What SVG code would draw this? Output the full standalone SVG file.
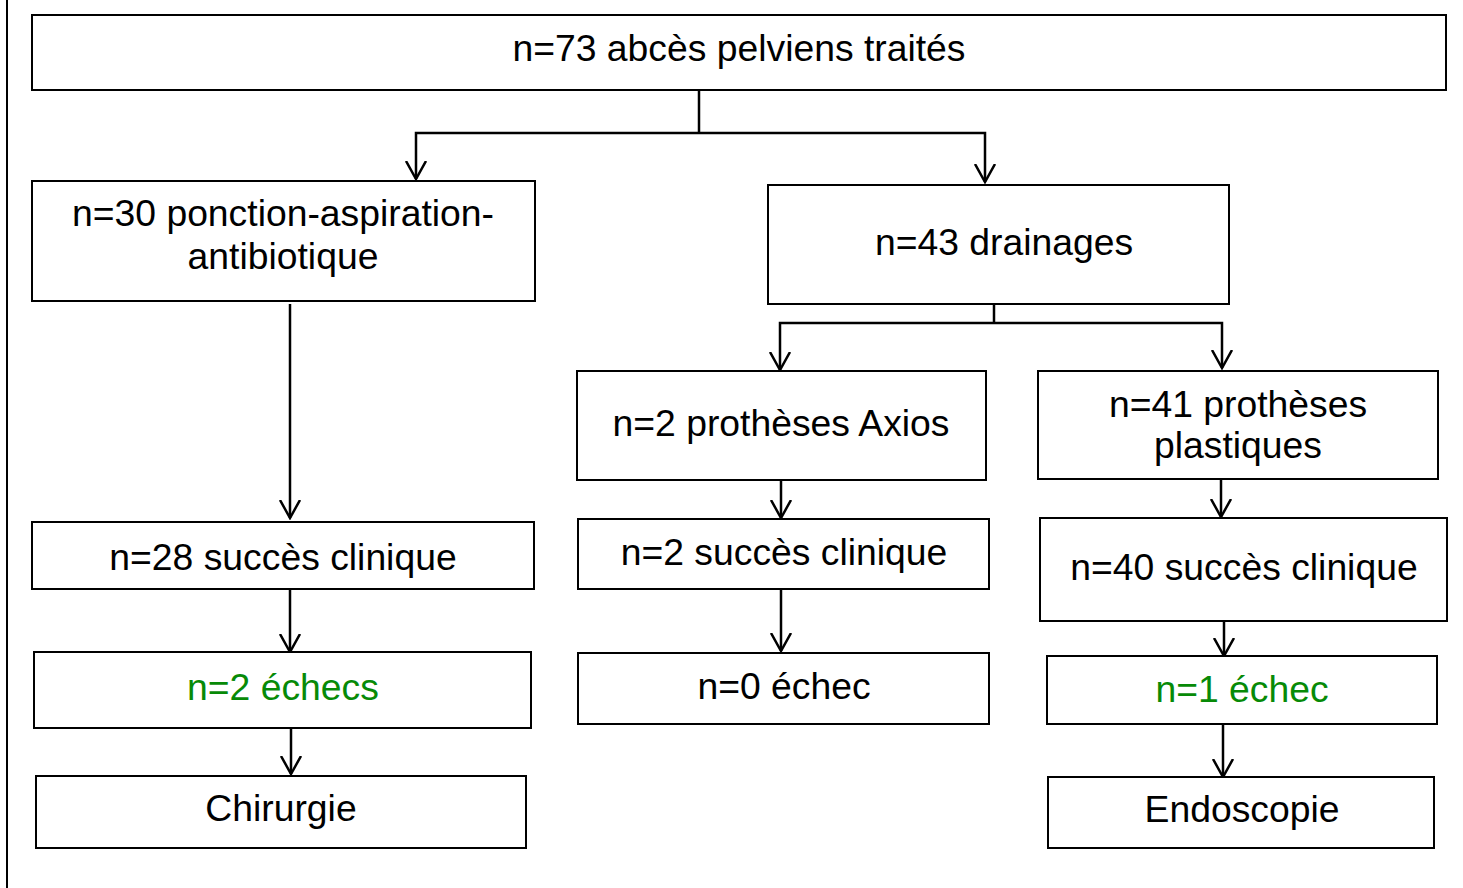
<svg xmlns="http://www.w3.org/2000/svg" width="1463" height="888" viewBox="0 0 1463 888">
<style>
.box{fill:#fff;stroke:#000;stroke-width:2}
.t{font-family:"Liberation Sans",Arial,sans-serif;font-size:37.3px;fill:#000;text-anchor:middle}
.g{fill:#078a07}
.c{fill:none;stroke:#000;stroke-width:2.5}
</style>
<defs>
<marker id="ah" viewBox="0 0 20 22" refX="18" refY="11" markerWidth="20" markerHeight="22" markerUnits="userSpaceOnUse" orient="auto-start-reverse">
<path d="M0,1 L18,11 L0,21" fill="none" stroke="#000" stroke-width="2.5"/>
</marker>
</defs>
<rect width="1463" height="888" fill="#fff"/>
<line x1="7" y1="0" x2="7" y2="888" stroke="#000" stroke-width="2"/>
<g id="connectors">
<polyline class="c" points="699,90 699,133"/>
<polyline class="c" points="416,179 416,133 985,133 985,182" marker-start="url(#ah)" marker-end="url(#ah)"/>
<polyline class="c" points="994,304 994,323"/>
<polyline class="c" points="780,370 780,323 1222,323 1222,368" marker-start="url(#ah)" marker-end="url(#ah)"/>
<line class="c" x1="290" y1="304" x2="290" y2="518" marker-end="url(#ah)"/>
<line class="c" x1="290" y1="589" x2="290" y2="652" marker-end="url(#ah)"/>
<line class="c" x1="291" y1="728" x2="291" y2="774" marker-end="url(#ah)"/>
<line class="c" x1="781" y1="480" x2="781" y2="518" marker-end="url(#ah)"/>
<line class="c" x1="781" y1="589" x2="781" y2="651" marker-end="url(#ah)"/>
<line class="c" x1="1221" y1="479" x2="1221" y2="517" marker-end="url(#ah)"/>
<line class="c" x1="1224" y1="621" x2="1224" y2="656" marker-end="url(#ah)"/>
<line class="c" x1="1223" y1="724" x2="1223" y2="777" marker-end="url(#ah)"/>
</g>
<g id="n73"><rect class="box" x="32" y="15" width="1414" height="75"/><text class="t" x="739" y="61">n=73 abcès pelviens traités</text></g>
<g id="n30"><rect class="box" x="32" y="181" width="503" height="120"/><text class="t" x="283" y="226">n=30 ponction-aspiration-</text><text class="t" x="283" y="269">antibiotique</text></g>
<g id="n43"><rect class="box" x="768" y="185" width="461" height="119"/><text class="t" x="1004" y="255">n=43 drainages</text></g>
<g id="axios"><rect class="box" x="577" y="371" width="409" height="109"/><text class="t" x="781" y="436">n=2 prothèses Axios</text></g>
<g id="plast"><rect class="box" x="1038" y="371" width="400" height="108"/><text class="t" x="1238" y="417">n=41 prothèses</text><text class="t" x="1238" y="458">plastiques</text></g>
<g id="s28"><rect class="box" x="32" y="522" width="502" height="67"/><text class="t" x="283" y="570">n=28 succès clinique</text></g>
<g id="e2"><rect class="box" x="34" y="652" width="497" height="76"/><text class="t g" x="283" y="700">n=2 échecs</text></g>
<g id="chir"><rect class="box" x="36" y="776" width="490" height="72"/><text class="t" x="281" y="821">Chirurgie</text></g>
<g id="s2"><rect class="box" x="578" y="519" width="411" height="70"/><text class="t" x="784" y="565">n=2 succès clinique</text></g>
<g id="e0"><rect class="box" x="578" y="653" width="411" height="71"/><text class="t" x="784" y="699">n=0 échec</text></g>
<g id="s40"><rect class="box" x="1040" y="518" width="407" height="103"/><text class="t" x="1244" y="580">n=40 succès clinique</text></g>
<g id="e1"><rect class="box" x="1047" y="656" width="390" height="68"/><text class="t g" x="1242" y="702">n=1 échec</text></g>
<g id="endo"><rect class="box" x="1048" y="777" width="386" height="71"/><text class="t" x="1242" y="822">Endoscopie</text></g>
</svg>
